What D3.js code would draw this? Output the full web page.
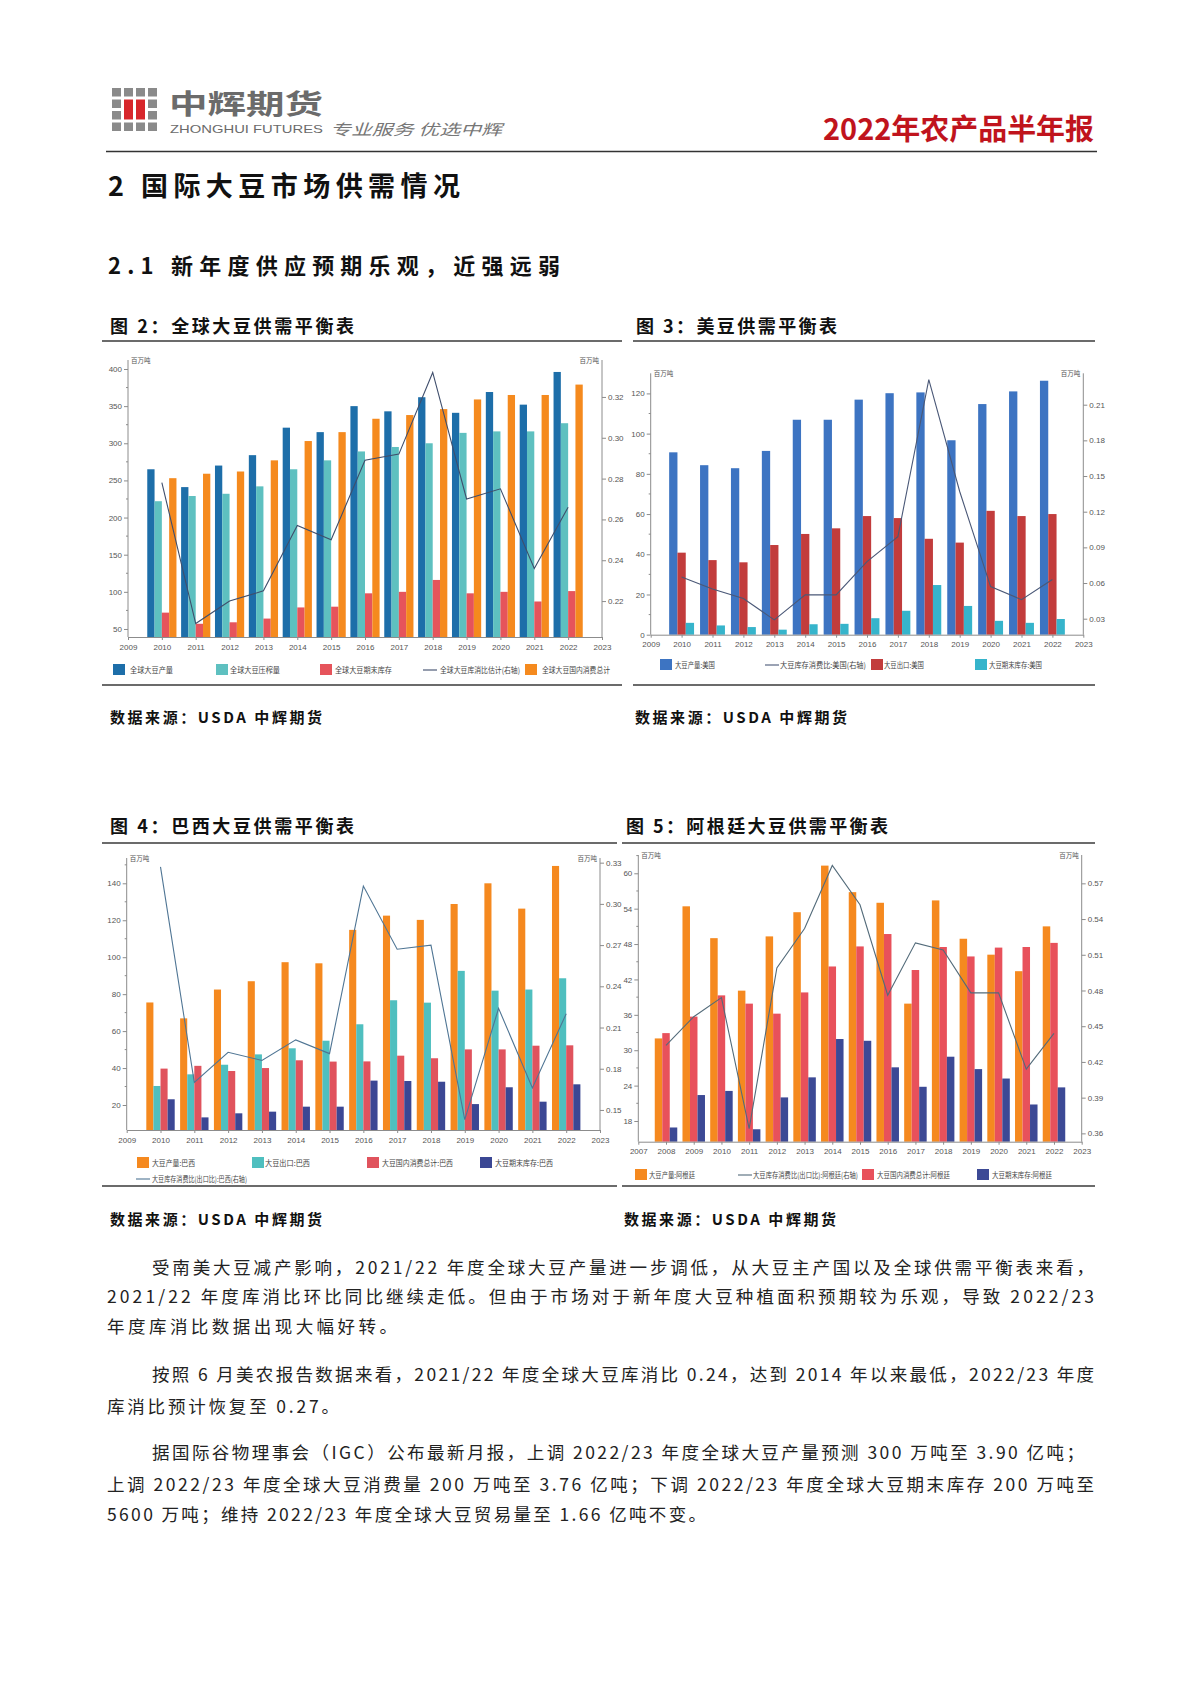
<!DOCTYPE html>
<html><head><meta charset="utf-8">
<script src="https://cdn.jsdelivr.net/npm/d3@7"></script>
<style>body{margin:0;background:#fff}svg{display:block}</style>
</head><body><div id="root"></div>
<script>
// ---------------- DATA ----------------
// Fig 2: global soybean balance (million tonnes) and stocks/use ratio
const globalYears = [2010,2011,2012,2013,2014,2015,2016,2017,2018,2019,2020,2021,2022];
const globalProduction  = [265,241,270,284,321,315,350,343,362,341,369,352,396];
const globalCrush       = [222,229,232,242,265,277,289,295,300,314,316,316,327];
const globalEndStock    = [72,57,59,64,79,80,98,100,116,98,100,87,101];
const globalConsumption = [253,259,262,277,303,315,333,338,346,359,365,365,379];
const globalRatio       = [0.278,0.209,0.220,0.225,0.257,0.250,0.289,0.292,0.332,0.270,0.275,0.236,0.266];
const globalXTicks = [2009,2010,2011,2012,2013,2014,2015,2016,2017,2018,2019,2020,2021,2022,2023];
const globalLeftTicks = [50,100,150,200,250,300,350,400];
const globalRightTicks = [0.22,0.24,0.26,0.28,0.30,0.32];

// Fig 3: US soybean balance
const usYears = [2010,2011,2012,2013,2014,2015,2016,2017,2018,2019,2020,2021,2022];
const usProduction = [90.7,84.3,82.8,91.4,106.9,106.9,116.9,120.1,120.5,96.7,114.7,121.0,126.3];
const usExports    = [40.8,37.1,36.0,44.6,50.1,52.9,59.0,58.0,47.7,45.8,61.6,59.0,60.0];
const usEndStock   = [5.9,4.6,3.8,2.5,5.2,5.4,8.2,11.9,24.7,14.3,6.9,5.9,7.8];
const usRatio      = [0.065,0.055,0.047,0.029,0.050,0.050,0.078,0.099,0.231,0.137,0.057,0.046,0.063];
const usXTicks = [2009,2010,2011,2012,2013,2014,2015,2016,2017,2018,2019,2020,2021,2022,2023];
const usLeftTicks = [0,20,40,60,80,100,120];
const usRightTicks = [0.03,0.06,0.09,0.12,0.15,0.18,0.21];

// Fig 4: Brazil soybean balance
const brYears = [2010,2011,2012,2013,2014,2015,2016,2017,2018,2019,2020,2021,2022];
const brProduction  = [75.5,66.9,82.5,87.0,97.3,96.7,114.8,122.5,120.2,128.8,140.0,126.3,149.4];
const brExports     = [30.3,36.6,41.8,47.4,50.7,54.8,63.7,76.7,75.4,92.6,81.9,82.5,88.6];
const brConsumption = [39.7,41.2,38.4,40.0,44.2,43.5,43.6,46.7,45.3,50.1,50.1,52.1,52.3];
const brEndStock    = [23.1,13.3,15.5,16.4,19.1,19.1,33.2,33.0,32.6,20.5,29.6,21.8,31.2];
const brRatio       = [0.327,0.170,0.192,0.186,0.201,0.191,0.313,0.267,0.270,0.143,0.224,0.166,0.220];
const brXTicks = [2009,2010,2011,2012,2013,2014,2015,2016,2017,2018,2019,2020,2021,2022,2023];
const brLeftTicks = [20,40,60,80,100,120,140];
const brRightTicks = [0.15,0.18,0.21,0.24,0.27,0.30,0.33];

// Fig 5: Argentina soybean balance
const arYears = [2008,2009,2010,2011,2012,2013,2014,2015,2016,2017,2018,2019,2020,2021,2022];
const arProduction  = [32.0,54.4,49.0,40.1,49.3,53.4,61.3,56.8,55.0,37.9,55.4,48.9,46.2,43.4,51.0];
const arConsumption = [32.9,35.7,39.3,37.9,36.2,39.8,44.2,47.6,49.7,43.6,47.5,45.9,47.4,47.5,48.2];
const arEndStock    = [16.9,22.4,23.1,16.6,22.0,25.4,31.9,31.6,27.1,23.8,28.9,26.8,25.2,20.8,23.7];
const arRatio       = [0.434,0.458,0.474,0.364,0.499,0.532,0.585,0.552,0.476,0.520,0.514,0.478,0.478,0.414,0.444];
const arXTicks = [2007,2008,2009,2010,2011,2012,2013,2014,2015,2016,2017,2018,2019,2020,2021,2022,2023];
const arLeftTicks = [18,24,30,36,42,48,54,60];
const arRightTicks = [0.36,0.39,0.42,0.45,0.48,0.51,0.54,0.57];

// ---------------- PAGE ----------------
const W = 1190, H = 1683;
const svg = d3.select("#root").append("svg").attr("width", W).attr("height", H);
svg.append("rect").attr("width", W).attr("height", H).attr("fill", "#fff");

const CJK = "'Noto Sans CJK SC','Noto Sans',sans-serif";
const NUM = "'Liberation Sans Narrow','Liberation Sans','DejaVu Sans Condensed',sans-serif";

function txt(x, y, s, size, opts = {}) {
  const t = svg.append("text").attr("x", x).attr("y", y).text(s)
    .attr("font-family", opts.family || CJK).attr("font-size", size)
    .attr("fill", opts.fill || "#111").attr("font-weight", opts.weight || 400);
  if (opts.len) t.attr("textLength", opts.len).attr("lengthAdjust", opts.adjust || "spacingAndGlyphs");
  if (opts.anchor) t.attr("text-anchor", opts.anchor);
  if (opts.style) t.attr("font-style", opts.style);
  return t;
}

// Header logo: 4x4 grid of squares with red centre bars
const logo = svg.append("g");
for (let r = 0; r < 4; r++) for (let c = 0; c < 4; c++) {
  if ((r === 1 || r === 2) && (c === 1 || c === 2)) continue;
  logo.append("rect").attr("x", 112 + c * 12).attr("y", 88 + r * 11.5).attr("width", 9).attr("height", 8.5).attr("fill", "#8a8a8a");
}
logo.append("rect").attr("x", 124).attr("y", 99.5).attr("width", 9).attr("height", 20).attr("fill", "#d7262b");
logo.append("rect").attr("x", 136).attr("y", 99.5).attr("width", 9).attr("height", 20).attr("fill", "#d7262b");
txt(169, 114, "中辉期货", 27, {fill: "#6b6b6b", weight: 700, len: 154});
txt(170, 133, "ZHONGHUI FUTURES", 11, {family: "'Liberation Sans','DejaVu Sans',sans-serif", fill: "#6b6b6b", len: 153});
txt(330, 135, "专业服务 优选中辉", 15, {fill: "#777", len: 172, style: "italic"});
txt(823, 140, "2022年农产品半年报", 29, {fill: "#c0141d", weight: 700, len: 271});
svg.append("line").attr("x1", 106).attr("x2", 1097).attr("y1", 151.5).attr("y2", 151.5).attr("stroke", "#333").attr("stroke-width", 1.5);

txt(108, 196, "2 国际大豆市场供需情况", 27, {weight: 700, len: 352, adjust: "spacing"});
txt(108, 274, "2.1 新年度供应预期乐观，近强远弱", 22, {weight: 700, len: 452, adjust: "spacing"});

// Figure titles and sources
txt(110, 333, "图 2：全球大豆供需平衡表", 18, {weight: 700, len: 244, adjust: "spacing"});
txt(636, 333, "图 3：美豆供需平衡表", 18, {weight: 700, len: 201, adjust: "spacing"});
txt(110, 833, "图 4：巴西大豆供需平衡表", 18, {weight: 700, len: 244, adjust: "spacing"});
txt(626, 833, "图 5：阿根廷大豆供需平衡表", 18, {weight: 700, len: 262, adjust: "spacing"});
txt(110, 723, "数据来源：USDA  中辉期货", 15, {weight: 700, len: 212, adjust: "spacing"});
txt(635, 723, "数据来源：USDA  中辉期货", 15, {weight: 700, len: 212, adjust: "spacing"});
txt(110, 1225, "数据来源：USDA  中辉期货", 15, {weight: 700, len: 212, adjust: "spacing"});
txt(624, 1225, "数据来源：USDA  中辉期货", 15, {weight: 700, len: 212, adjust: "spacing"});

// Chart frame lines
[[102, 622, 341], [633, 1095, 341], [102, 622, 685], [633, 1095, 685],
 [102, 617, 843], [622, 1095, 843], [102, 617, 1186], [622, 1095, 1186]].forEach(([a, b, y]) =>
  svg.append("line").attr("x1", a).attr("x2", b).attr("y1", y).attr("y2", y).attr("stroke", "#3a3a3a").attr("stroke-width", 1.3));

// Body paragraphs
const para = [
  [152, 1274, "受南美大豆减产影响，2021/22 年度全球大豆产量进一步调低，从大豆主产国以及全球供需平衡表来看，", 942],
  [107, 1303, "2021/22 年度库消比环比同比继续走低。但由于市场对于新年度大豆种植面积预期较为乐观，导致 2022/23", 987],
  [107, 1333, "年度库消比数据出现大幅好转。", 290],
  [152, 1381, "按照 6 月美农报告数据来看，2021/22 年度全球大豆库消比 0.24，达到 2014 年以来最低，2022/23 年度", 942],
  [107, 1413, "库消比预计恢复至 0.27。", 232],
  [152, 1459, "据国际谷物理事会（IGC）公布最新月报，上调 2022/23 年度全球大豆产量预测 300 万吨至 3.90 亿吨；", 932],
  [107, 1491, "上调 2022/23 年度全球大豆消费量 200 万吨至 3.76 亿吨；下调 2022/23 年度全球大豆期末库存 200 万吨至", 987],
  [107, 1521, "5600 万吨；维持 2022/23 年度全球大豆贸易量至 1.66 亿吨不变。", 599]
];
para.forEach(([x, y, s, len]) => txt(x, y, s, 17.5, {fill: "#222", len: len, adjust: "spacing"}));

// ---------------- CHARTS ----------------
function drawChart(c) {
  const g = svg.append("g");
  const x = d3.scaleLinear().domain(c.xDomain).range([c.left, c.right]);
  const yL = d3.scaleLinear().domain(c.yLDomain).range([c.bottom, c.top]);
  const yR = d3.scaleLinear().domain(c.yRDomain).range([c.bottom, c.top]);
  const axisColor = "#8c8c8c";

  // bars
  const n = c.bars.length;
  c.bars.forEach((s, i) => {
    g.append("g").selectAll("rect").data(c.years.map((yr, k) => ({yr, v: s.values[k]})))
      .join("rect")
      .attr("x", d => x(d.yr) - n * c.barW / 2 + i * c.barW)
      .attr("width", c.barW)
      .attr("y", d => yL(d.v))
      .attr("height", d => c.bottom - yL(d.v))
      .attr("fill", s.color);
  });

  // line
  g.append("path").datum(c.years.map((yr, k) => ({yr, v: c.line.values[k]})))
    .attr("fill", "none").attr("stroke", c.line.color).attr("stroke-width", 1.1)
    .attr("d", d3.line().x(d => x(d.yr)).y(d => yR(d.v)));

  const styleAxis = (sel) => {
    sel.select(".domain").attr("stroke", axisColor);
    sel.selectAll(".tick line").attr("stroke", axisColor);
    sel.selectAll(".tick text").attr("fill", "#555").attr("font-size", 8).attr("font-family", NUM);
  };

  // left axis
  const la = g.append("g").attr("transform", `translate(${c.left},0)`)
    .call(d3.axisLeft(yL).tickValues(c.leftTicks).tickSize(4).tickSizeOuter(0).tickFormat(d3.format("d")).tickPadding(2));
  styleAxis(la);
  la.select(".domain").attr("d", `M0,${c.bottom}V${c.top}`);
  // minor ticks
  const lt = c.leftTicks;
  const step = lt[1] - lt[0];
  g.append("g").selectAll("line").data(lt.map(v => v + step / 2).filter(v => yL(v) > c.top))
    .join("line").attr("x1", c.left - 2).attr("x2", c.left).attr("y1", d => yL(d)).attr("y2", d => yL(d)).attr("stroke", axisColor);

  // right axis
  const ra = g.append("g").attr("transform", `translate(${c.right},0)`)
    .call(d3.axisRight(yR).tickValues(c.rightTicks).tickSize(4).tickSizeOuter(0).tickFormat(d3.format(".2f")).tickPadding(2));
  styleAxis(ra);
  ra.select(".domain").attr("d", `M0,${c.bottom}V${c.top}`);

  // bottom axis
  const ba = g.append("g").attr("transform", `translate(0,${c.bottom})`)
    .call(d3.axisBottom(x).tickValues(c.xTicks).tickSize(3).tickSizeOuter(0).tickFormat(d3.format("d")).tickPadding(4));
  styleAxis(ba);

  // unit labels
  g.append("text").attr("x", c.left + 3).attr("y", c.top + 3).text("百万吨")
    .attr("font-family", CJK).attr("font-size", 6.5).attr("fill", "#555");
  g.append("text").attr("x", c.right - 3).attr("y", c.top + 3).text("百万吨").attr("text-anchor", "end")
    .attr("font-family", CJK).attr("font-size", 6.5).attr("fill", "#555");

  // legend
  c.legend.forEach(it => {
    if (it.type === "line") {
      g.append("line").attr("x1", it.x).attr("x2", it.x + 14).attr("y1", it.y).attr("y2", it.y)
        .attr("stroke", it.color).attr("stroke-width", 1.1);
    } else {
      g.append("rect").attr("x", it.x).attr("y", it.y - 6).attr("width", 12).attr("height", 11).attr("fill", it.color);
    }
    g.append("text").attr("x", it.tx).attr("y", it.y + 3).text(it.label)
      .attr("font-family", CJK).attr("font-size", 8).attr("fill", "#444")
      .attr("textLength", it.tl).attr("lengthAdjust", "spacingAndGlyphs");
  });
}

// Fig 2
const C1 = {blue: "#1d6ea9", teal: "#5ec0c0", red: "#e6545b", orange: "#f58a1e", line: "#3f4e6c"};
drawChart({
  left: 128, right: 602, top: 360, bottom: 637,
  xDomain: [2009, 2023], yLDomain: [39.2, 412.1], yRDomain: [0.2024, 0.3381],
  years: globalYears, barW: 7.3,
  bars: [
    {values: globalProduction, color: C1.blue},
    {values: globalCrush, color: C1.teal},
    {values: globalEndStock, color: C1.red},
    {values: globalConsumption, color: C1.orange}
  ],
  line: {values: globalRatio, color: C1.line},
  xTicks: globalXTicks, leftTicks: globalLeftTicks, rightTicks: globalRightTicks,
  legend: [
    {x: 113, y: 670, tx: 130, tl: 43, color: C1.blue, label: "全球大豆产量"},
    {x: 216, y: 670, tx: 230, tl: 50, color: C1.teal, label: "全球大豆压榨量"},
    {x: 320, y: 670, tx: 335, tl: 57, color: C1.red, label: "全球大豆期末库存"},
    {type: "line", x: 423, y: 670, tx: 440, tl: 80, color: C1.line, label: "全球大豆库消比估计(右轴)"},
    {x: 525, y: 670, tx: 542, tl: 68, color: C1.orange, label: "全球大豆国内消费总计"}
  ]
});

// Fig 3
const C2 = {blue: "#3d74c2", red: "#c23c3c", teal: "#36b4cb", line: "#4a5877"};
drawChart({
  left: 650.7, right: 1083.3, top: 373.3, bottom: 634.7,
  xDomain: [2009, 2023], yLDomain: [0, 130], yRDomain: [0.01654, 0.2364],
  years: usYears, barW: 8.3,
  bars: [
    {values: usProduction, color: C2.blue},
    {values: usExports, color: C2.red},
    {values: usEndStock, color: C2.teal}
  ],
  line: {values: usRatio, color: C2.line},
  xTicks: usXTicks, leftTicks: usLeftTicks, rightTicks: usRightTicks,
  legend: [
    {x: 660, y: 665, tx: 675, tl: 40, color: C2.blue, label: "大豆产量:美国"},
    {type: "line", x: 765, y: 665, tx: 780, tl: 86, color: C2.line, label: "大豆库存消费比:美国(右轴)"},
    {x: 871, y: 665, tx: 884, tl: 40, color: C2.red, label: "大豆出口:美国"},
    {x: 975, y: 665, tx: 989, tl: 53, color: C2.teal, label: "大豆期末库存:美国"}
  ]
});

// Fig 4
const C3 = {orange: "#f5891f", teal: "#4fbfbf", red: "#e0535d", navy: "#3b4794", line: "#4f7594"};
drawChart({
  left: 126.7, right: 600, top: 858, bottom: 1130,
  xDomain: [2009, 2023], yLDomain: [6.47, 153.7], yRDomain: [0.1354, 0.3334],
  years: brYears, barW: 7.1,
  bars: [
    {values: brProduction, color: C3.orange},
    {values: brExports, color: C3.teal},
    {values: brConsumption, color: C3.red},
    {values: brEndStock, color: C3.navy}
  ],
  line: {values: brRatio, color: C3.line},
  xTicks: brXTicks, leftTicks: brLeftTicks, rightTicks: brRightTicks,
  legend: [
    {x: 137, y: 1163, tx: 152, tl: 43, color: C3.orange, label: "大豆产量:巴西"},
    {x: 252, y: 1163, tx: 265, tl: 45, color: C3.teal, label: "大豆出口:巴西"},
    {x: 367, y: 1163, tx: 382, tl: 71, color: C3.red, label: "大豆国内消费总计:巴西"},
    {x: 480, y: 1163, tx: 495, tl: 58, color: C3.navy, label: "大豆期末库存:巴西"},
    {type: "line", x: 136, y: 1179, tx: 152, tl: 95, color: C3.line, label: "大豆库存消费比(出口比):巴西(右轴)"}
  ]
});

// Fig 5
const C4 = {orange: "#f5891f", red: "#e8515b", navy: "#3c4995", line: "#536b7a"};
drawChart({
  left: 638.3, right: 1081.7, top: 855, bottom: 1141.7,
  xDomain: [2007, 2023], yLDomain: [14.49, 63.1], yRDomain: [0.353, 0.5938],
  years: arYears, barW: 7.5,
  bars: [
    {values: arProduction, color: C4.orange},
    {values: arConsumption, color: C4.red},
    {values: arEndStock, color: C4.navy}
  ],
  line: {values: arRatio, color: C4.line},
  xTicks: arXTicks, leftTicks: arLeftTicks, rightTicks: arRightTicks,
  legend: [
    {x: 635, y: 1175, tx: 649, tl: 46, color: C4.orange, label: "大豆产量:阿根廷"},
    {type: "line", x: 738, y: 1175, tx: 753, tl: 105, color: C4.line, label: "大豆库存消费比(出口比):阿根廷(右轴)"},
    {x: 862, y: 1175, tx: 877, tl: 73, color: C4.red, label: "大豆国内消费总计:阿根廷"},
    {x: 977, y: 1175, tx: 992, tl: 60, color: C4.navy, label: "大豆期末库存:阿根廷"}
  ]
});
</script>
</body></html>
